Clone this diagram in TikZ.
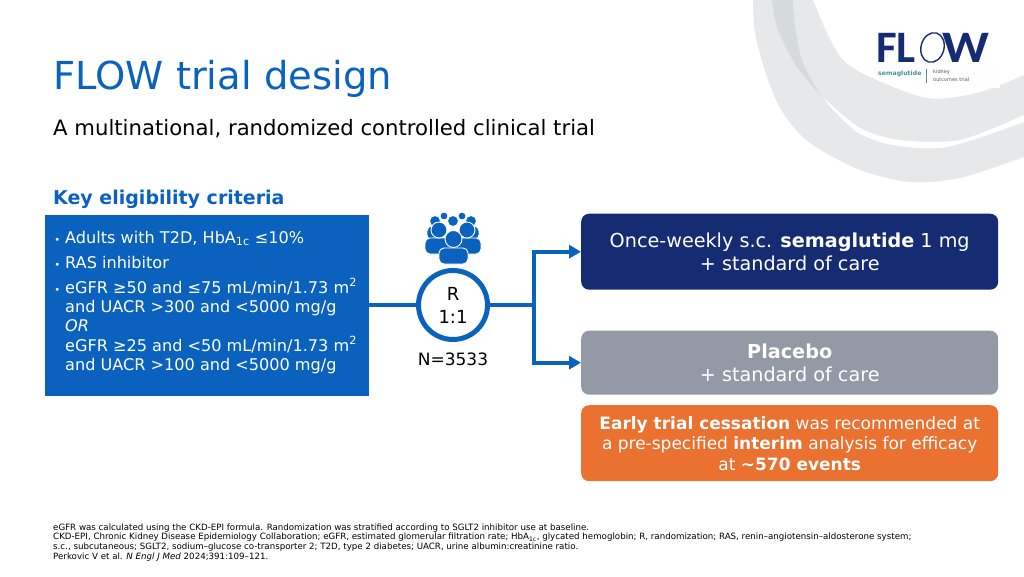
\documentclass[tikz,border=0pt]{standalone}
\usepackage{fontspec}
\usepackage{graphicx}
\setmainfont{DejaVu Sans}
\newfontfamily\logofont{Carlito}
\usetikzlibrary{arrows.meta,shapes.geometric}
\definecolor{flowblue}{HTML}{0A62BE}
\definecolor{flownavy}{HTML}{152C73}
\definecolor{flowgray}{HTML}{939AA6}
\definecolor{floworange}{HTML}{EA7130}
\definecolor{flowring}{HTML}{E6E8E9}
\definecolor{flowwedge}{HTML}{D5DADD}
\definecolor{flowteal}{HTML}{4A8FA0}
\newcommand{\critdot}{\llap{{\fontsize{10}{10}\selectfont\textbullet}\hspace{5pt}}}
\begin{document}
\begin{tikzpicture}[x=1pt,y=-1pt,%
% common options for the boxes on the right:
armbox/.style = {rounded corners=8pt, align=center, anchor=north west, text=white,
            minimum width=417pt, inner sep=0, font=\fontsize{19.2}{23.5}\selectfont},
% common options for the people:
head/.style = {circle, fill=flowblue, draw=white, line width=0.9pt, inner sep=0},
shoulder/.style = {fill=flowblue, draw=white, line width=0.9pt, rounded corners=5pt},
% common options for the arrows:
link/.style = {draw=flowblue, line width=4pt},
foot/.style = {align=left, anchor=base west, inner sep=0}]
\useasboundingbox (0,0) rectangle (1024,576);
% rings behind the logo
\fill[flowring] plot[smooth] coordinates {(753,0) (755,33) (767,77) (783,113) (810,143) (860,170) (910,182) (960,178) (1024,157)}
  -- plot[smooth] coordinates {(1024,75) (977,93) (927,98) (870,77) (843,60) (827,33) (813,0)} -- cycle;
\fill[flowwedge] plot[smooth] coordinates {(772,0) (778,30) (797,67) (821,96)}
  -- plot[smooth] coordinates {(821,96) (803,63) (795,27) (793,0)} -- cycle;
\fill[white] plot[smooth] coordinates {(825,99) (860,128) (900,140) (960,140) (1024,115)}
  -- plot[smooth] coordinates {(1024,122) (947,147) (893,145) (857,132) (827,103)} -- cycle;
% logo
\fill[white!97!flowring] (930,65) rectangle (1000,88);
\node[anchor=base west,inner sep=0,text=flownavy,font=\logofont\bfseries\fontsize{45}{45}\selectfont] (L1) at (876,62) {FL};
\node[ellipse,draw=flownavy,line width=1.4pt,minimum width=23pt,minimum height=30pt,rotate=-15,inner sep=0] (L2) at (932.5,47.5) {};
\node[anchor=base west,inner sep=0,text=flownavy,font=\logofont\bfseries\fontsize{45}{45}\selectfont] (L3) at (942,62) {\scalebox{1.15}[1]{W}};
\node[anchor=base west,inner sep=0,text=flowteal,font=\bfseries\fontsize{6.2}{8}\selectfont] (L4) at (878,75) {semaglutide};
\node[anchor=base west,inner sep=0,text=black!65,align=left,font=\fontsize{5}{8}\selectfont] (L5) at (933,81.5) {kidney\\outcomes trial};
\draw[flowteal,line width=0.7pt] (926.5,69) -- (926.5,83);
% heading
\node[anchor=base west,inner sep=0,text=flowblue,font=\fontsize{38.5}{44}\selectfont] (T0) at (53,89) {FLOW trial design};
\node[anchor=base west,inner sep=0,font=\fontsize{21.2}{25}\selectfont] (T1) at (53,135) {A multinational, randomized controlled clinical trial};
\node[anchor=base west,inner sep=0,text=flowblue,font=\bfseries\fontsize{19}{23}\selectfont] (T2) at (53,204) {Key eligibility criteria};
% criteria
\node[anchor=north west,fill=flowblue,minimum width=324pt,minimum height=181pt,inner sep=0] (A0) at (45,215) {};
\node[anchor=west,text=white,inner sep=0,align=left,font=\fontsize{16.1}{19.4}\selectfont] (A1) at (65,302.5) {\critdot Adults with T2D, HbA\textsubscript{1c} ≤10\%\\[5.5pt]
\critdot RAS inhibitor\\[5.5pt]
\critdot eGFR ≥50 and ≤75 mL/min/1.73 m\textsuperscript{2}\\
and UACR >300 and <5000 mg/g\\
\textit{OR}\\
eGFR ≥25 and <50 mL/min/1.73 m\textsuperscript{2}\\
and UACR >100 and <5000 mg/g};
% people
\draw[shoulder] (427,240) -- (427,226) -- (443,226) -- (443,240) -- cycle;
\draw[shoulder] (463,240) -- (463,226) -- (479,226) -- (479,240) -- cycle;
\node[head,minimum size=11pt] (P1) at (435,221) {};
\node[head,minimum size=11pt] (P2) at (471,221) {};
\node[head,minimum size=8pt] (P3) at (444,216) {};
\node[head,minimum size=8pt] (P4) at (462,216) {};
\node[head,minimum size=11pt] (P5) at (453,221) {};
\draw[shoulder] (425,254) -- (425,238) -- (453,238) -- (453,254) -- cycle;
\draw[shoulder] (453,254) -- (453,238) -- (481,238) -- (481,254) -- cycle;
\node[head,minimum size=16pt] (P6) at (439,230) {};
\node[head,minimum size=16pt] (P7) at (467,230) {};
\draw[shoulder] (439,264) -- (439,248) -- (468,248) -- (468,264) -- cycle;
\node[head,minimum size=17pt] (P8) at (453.5,239) {};
% randomization
\node[circle,draw=flowblue,line width=5pt,fill=white,minimum size=69pt,inner sep=0,align=center,
      font=\fontsize{18}{23}\selectfont] (R) at (453,305) {R\\1:1};
\node[anchor=base,inner sep=0,font=\fontsize{17}{20}\selectfont] (N) at (453,365) {N=3533};
% arms
\node[armbox,fill=flownavy,minimum height=76pt] (B1) at (581,213.5) {Once-weekly s.c. \textbf{semaglutide} 1 mg\\+ standard of care};
\node[armbox,fill=flowgray,minimum height=64pt] (B2) at (581,330.5) {\textbf{Placebo}\\+ standard of care};
\node[armbox,fill=floworange,minimum height=76pt,font=\fontsize{17}{20.5}\selectfont] (B3) at (581,405) {\textbf{Early trial cessation} was recommended at\\a pre-specified \textbf{interim} analysis for efficacy\\at \textbf{\textasciitilde570 events}};
\coordinate (J) at (534,305);
\draw[link] (A0.east |- R) to (R.west);
\draw[link] (R.east) to (J);
\draw[link,-{Triangle[length=12pt,width=13pt]}] (J) |- (B1.west);
\draw[link,-{Triangle[length=12pt,width=13pt]}] (J) |- (B2.west);
% footnotes
\node[foot,font=\fontsize{8.67}{9.6}\selectfont] (F0) at (53,559) {eGFR was calculated using the CKD-EPI formula. Randomization was stratified according to SGLT2 inhibitor use at baseline.\\
CKD-EPI, Chronic Kidney Disease Epidemiology Collaboration; eGFR, estimated glomerular filtration rate; HbA\textsubscript{1c}, glycated hemoglobin; R, randomization; RAS, renin–angiotensin–aldosterone system;\\
s.c., subcutaneous; SGLT2, sodium–glucose co-transporter 2; T2D, type 2 diabetes; UACR, urine albumin:creatinine ratio.\\
Perkovic V et al. \textit{N Engl J Med} 2024;391:109–121.};
\end{tikzpicture}
\end{document}
